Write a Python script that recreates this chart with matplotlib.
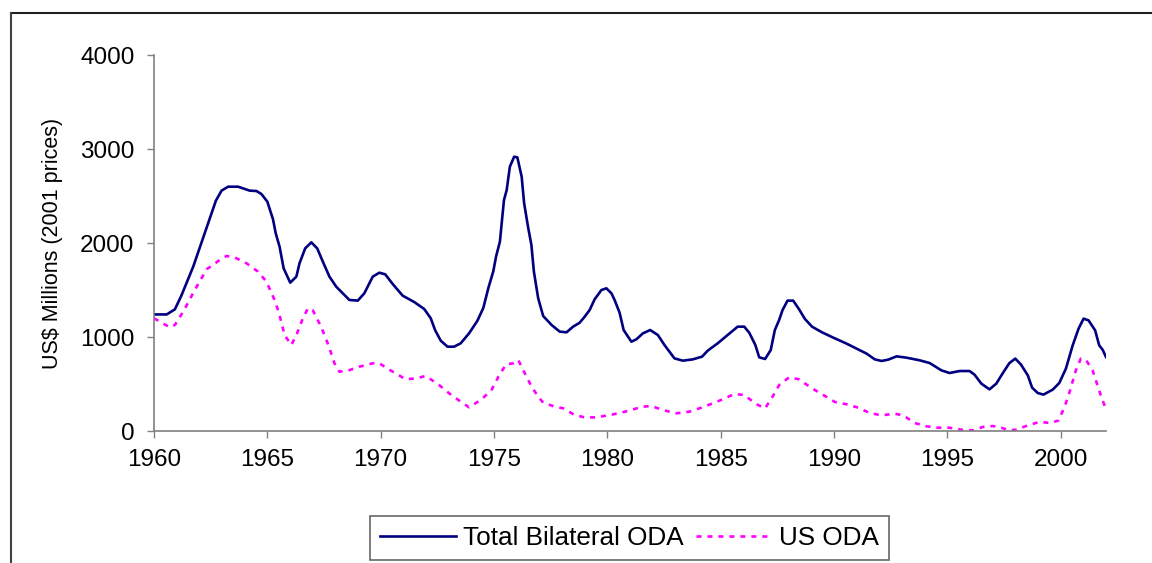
import matplotlib
matplotlib.use("Agg")
import matplotlib.pyplot as plt
from matplotlib.lines import Line2D

plt.rcParams['font.family'] = ['Liberation Sans', 'DejaVu Sans']
plt.rcParams['lines.scale_dashes'] = False

total_years = [1960.0, 1960.56, 1960.92, 1961.2, 1961.73, 1962.46, 1962.73, 1962.98, 1963.27, 1963.71,
               1964.22, 1964.52, 1964.74, 1965.0, 1965.25, 1965.37, 1965.54, 1965.72, 1966.01, 1966.28,
               1966.42, 1966.67, 1966.94, 1967.2, 1967.45, 1967.74, 1968.04, 1968.62, 1968.99, 1969.28,
               1969.65, 1969.94, 1970.2, 1970.53, 1970.97, 1971.48, 1971.92, 1972.21, 1972.4, 1972.65,
               1972.95, 1973.24, 1973.53, 1973.9, 1974.27, 1974.53, 1974.75, 1974.97, 1975.09, 1975.26,
               1975.44, 1975.56, 1975.7, 1975.89, 1976.03, 1976.22, 1976.33, 1976.5, 1976.65, 1976.76,
               1976.95, 1977.17, 1977.54, 1977.9, 1978.2, 1978.49, 1978.78, 1979.0, 1979.22, 1979.44,
               1979.74, 1979.96, 1980.18, 1980.32, 1980.54, 1980.72, 1981.06, 1981.28, 1981.57, 1981.89,
               1982.23, 1982.52, 1982.96, 1983.33, 1983.77, 1984.18, 1984.43, 1984.87, 1985.31, 1985.75,
               1986.04, 1986.26, 1986.53, 1986.7, 1986.96, 1987.21, 1987.39, 1987.58, 1987.73, 1987.95,
               1988.2, 1988.45, 1988.72, 1989.03, 1989.47, 1989.97, 1990.56, 1991.44, 1991.8, 1992.1,
               1992.39, 1992.76, 1993.2, 1993.78, 1994.22, 1994.74, 1995.1, 1995.54, 1995.98, 1996.2,
               1996.5, 1996.86, 1997.16, 1997.45, 1997.74, 1998.0, 1998.25, 1998.55, 1998.74, 1998.99,
               1999.24, 1999.65, 1999.94, 2000.23, 2000.53, 2000.79, 2001.01, 2001.23, 2001.52, 2001.7,
               2001.85, 2002.0]
total_oda = [1240, 1240, 1294, 1436, 1748, 2262, 2450, 2557, 2599, 2599,
             2557, 2553, 2521, 2440, 2252, 2103, 1961, 1730, 1578, 1642,
             1784, 1943, 2007, 1943, 1801, 1642, 1535, 1394, 1387, 1465,
             1642, 1684, 1667, 1564, 1440, 1372, 1298, 1199, 1074, 961,
             897, 897, 933, 1039, 1174, 1310, 1520, 1700, 1855, 2014,
             2457, 2564, 2812, 2918, 2911, 2706, 2422, 2174, 1979, 1695,
             1411, 1223, 1128, 1057, 1050, 1110, 1152, 1216, 1287, 1401,
             1500, 1518, 1465, 1394, 1259, 1074, 950, 975, 1039, 1074,
             1021, 915, 773, 748, 762, 791, 855, 933, 1021, 1110,
             1110, 1046, 915, 784, 766, 862, 1074, 1181, 1287, 1387,
             1387, 1298, 1191, 1110, 1050, 993, 929, 823, 762, 745,
             759, 794, 780, 752, 723, 645, 617, 638, 638, 599,
             504, 443, 504, 617, 723, 770, 706, 592, 461, 404,
             387, 440, 511, 663, 911, 1089, 1195, 1177, 1071, 911,
             865, 787]

us_years = [1960.0, 1960.7, 1960.92, 1961.29, 1961.8, 1962.32, 1962.9, 1963.2, 1963.56, 1964.08,
            1964.59, 1964.96, 1965.32, 1965.51, 1965.76, 1966.06, 1966.3, 1966.57, 1966.79, 1967.0,
            1967.37, 1967.71, 1967.96, 1968.18, 1968.55, 1969.06, 1969.65, 1969.94, 1970.53, 1971.11,
            1971.55, 1971.99, 1972.58, 1973.02, 1973.53, 1973.9, 1974.45, 1974.9, 1975.2, 1975.53,
            1975.85, 1976.07, 1976.36, 1976.66, 1976.95, 1977.17, 1977.68, 1978.05, 1978.56, 1979.0,
            1979.52, 1980.1, 1980.62, 1981.13, 1981.57, 1981.94, 1982.45, 1983.04, 1983.62, 1984.06,
            1984.65, 1985.09, 1985.6, 1986.04, 1986.56, 1986.96, 1987.29, 1987.58, 1988.02, 1988.45,
            1989.03, 1989.54, 1990.04, 1990.56, 1991.07, 1991.58, 1992.1, 1992.68, 1993.05, 1993.56,
            1994.08, 1994.59, 1995.1, 1995.61, 1996.13, 1996.57, 1997.01, 1997.38, 1997.74, 1998.04,
            1998.55, 1999.06, 1999.57, 1999.91, 2000.18, 2000.37, 2000.67, 2000.89, 2001.11, 2001.41,
            2001.77, 2001.99]
us_oda = [1199, 1103, 1128, 1270, 1500, 1720, 1819, 1862, 1847, 1784,
          1695, 1589, 1394, 1259, 1021, 915, 1032, 1199, 1305, 1287,
          1110, 904, 720, 631, 642, 684, 720, 720, 631, 550,
          560, 585, 489, 401, 312, 252, 335, 440, 580, 709,
          720, 755, 613, 472, 365, 301, 259, 241, 170, 145,
          145, 170, 195, 230, 259, 266, 223, 188, 206, 241,
          294, 337, 394, 383, 287, 241, 365, 489, 571, 550,
          454, 381, 309, 284, 248, 191, 167, 184, 167, 85,
          50, 35, 35, 14, 7, 43, 53, 35, 7, 14,
          60, 96, 85, 113, 262, 397, 645, 770, 759, 645,
          379, 238]

x_ticks = [1960, 1965, 1970, 1975, 1980, 1985, 1990, 1995, 2000]
y_ticks = [0, 1000, 2000, 3000, 4000]
series_labels = ["Total Bilateral ODA", "US ODA"]
y_label = "US$ Millions (2001 prices)"

W, H = 1152, 563
fig = plt.figure(figsize=(W / 100, H / 100), dpi=100)
ax = fig.add_axes([154 / W, 1 - 431 / H, (1106 - 154) / W, (431 - 55) / H])

ax.plot(total_years, total_oda, color='#000080', lw=1.9, label=series_labels[0], solid_joinstyle='round')
ax.plot(us_years, us_oda, color='#FF00FF', lw=1.9, linestyle=(0, (3.6, 4.3)), label=series_labels[1])

ax.set_xlim(1960, 2002)
ax.set_ylim(0, 4000)
ax.set_xticks(x_ticks)
ax.set_yticks(y_ticks)
ax.tick_params(axis='both', direction='out', length=5, width=1, color='#808080', labelsize=17.5, pad=8)
ax.tick_params(axis='y', pad=9)
for s in ['top', 'right']:
    ax.spines[s].set_visible(False)
for s in ['left', 'bottom']:
    ax.spines[s].set_color('#808080')
    ax.spines[s].set_linewidth(1.2)
ax.set_ylabel(y_label, fontsize=15.5)
ax.yaxis.set_label_coords(-(154 - 63) / (1106 - 154), 0.5)

leg = fig.legend(loc='center', bbox_to_anchor=(629.5 / W, 1 - 538 / H), ncol=2, fontsize=18.8,
                 frameon=True, fancybox=False, edgecolor='#404040', handlelength=2.9,
                 handletextpad=0.25, columnspacing=0.5, borderpad=0.4, borderaxespad=0)
leg.get_frame().set_linewidth(1.2)

# outer chart-area border (clipped at the right and bottom)
fig.add_artist(Line2D([10.5 / W, 1.0], [1 - 12.5 / H, 1 - 12.5 / H], transform=fig.transFigure,
                      color='#202020', lw=1.5))
fig.add_artist(Line2D([10.5 / W, 10.5 / W], [1 - 12.5 / H, 0.0], transform=fig.transFigure,
                      color='#404040', lw=1.5))

fig.savefig('out.png', dpi=100)
